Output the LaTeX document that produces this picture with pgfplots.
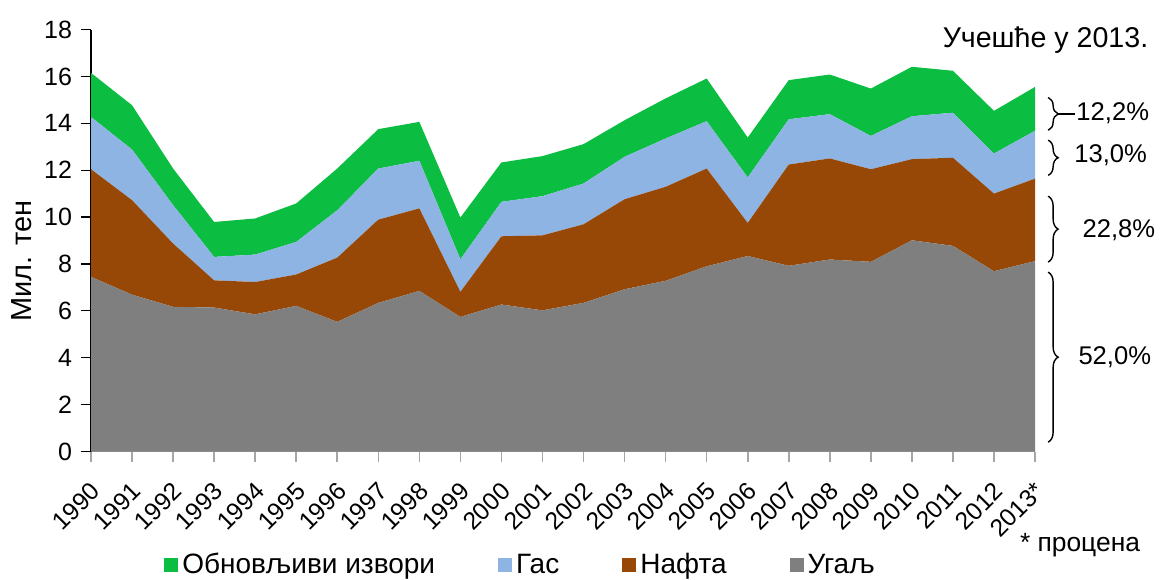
\documentclass[border=0pt]{standalone}
\usepackage{fontspec}
\setmainfont{Liberation Sans}
\usepackage{pgfplots}
\pgfplotsset{compat=1.18}
\usetikzlibrary{decorations.pathreplacing}
\definecolor{cRen}{RGB}{11,189,65}
\definecolor{cGas}{RGB}{142,180,227}
\definecolor{cOil}{RGB}{151,72,6}
\definecolor{cCoal}{RGB}{127,127,127}
\begin{document}
\begin{tikzpicture}
\path[use as bounding box] (0,0) rectangle (582.5pt,289.5pt);
\begin{axis}[
  at={(45.5pt,63.75pt)}, anchor=south west,
  scale only axis, width=472pt, height=211pt,
  xmin=1990, xmax=2013, ymin=0, ymax=18,
  ytick={0,2,...,18},
  xtick={1990,1991,...,2013},
  xticklabels={1990,1991,1992,1993,1994,1995,1996,1997,1998,1999,2000,2001,2002,2003,2004,2005,2006,2007,2008,2009,2010,2011,2012,2013*},
  stack plots=y,
  clip=false,
  axis x line*=bottom, axis y line*=left,
  x axis line style={-,draw=gray!70,line width=0.8pt},
  y axis line style={-,draw=black,line width=0.6pt},
  tick align=outside,
  xtick style={draw=gray!70,line width=0.8pt},
  ytick style={draw=black,line width=0.6pt},
  major tick length=5pt,
  /pgf/number format/assume math mode=true,
  yticklabel style={font=\fontsize{12.5}{14}\selectfont, xshift=-1pt},
  xticklabel style={font=\fontsize{12.3}{14}\selectfont, xshift=-0.8pt, yshift=-8pt, rotate=45, anchor=north east, inner sep=1pt},
  legend columns=4,
  reverse legend,
  legend style={draw=none, at={(0.456,-0.269)}, anchor=center,
    font=\fontsize{14}{16}\selectfont,
    /tikz/every even column/.append style={column sep=29.5pt}},
  legend image code/.code={\fill[#1] (0pt,-3.5pt) rectangle (7pt,3.5pt);},
]
\addplot[fill=cCoal, draw=none] coordinates {
(1990,7.45) (1991,6.69) (1992,6.17) (1993,6.14) (1994,5.85) (1995,6.21)
(1996,5.53) (1997,6.34) (1998,6.85) (1999,5.74) (2000,6.27) (2001,6.02)
(2002,6.34) (2003,6.92) (2004,7.28) (2005,7.90) (2006,8.34) (2007,7.92)
(2008,8.19) (2009,8.09) (2010,9.01) (2011,8.77) (2012,7.69) (2013,8.12)} \closedcycle;
\addlegendentry{Угаљ}
\addplot[fill=cOil, draw=none] coordinates {
(1990,4.59) (1991,4.03) (1992,2.70) (1993,1.16) (1994,1.38) (1995,1.34)
(1996,2.74) (1997,3.55) (1998,3.52) (1999,1.07) (2000,2.91) (2001,3.20)
(2002,3.35) (2003,3.84) (2004,4.01) (2005,4.17) (2006,1.41) (2007,4.32)
(2008,4.31) (2009,3.95) (2010,3.46) (2011,3.76) (2012,3.31) (2013,3.52)} \closedcycle;
\addlegendentry{Нафта}
\addplot[fill=cGas, draw=none] coordinates {
(1990,2.23) (1991,2.16) (1992,1.64) (1993,1.00) (1994,1.17) (1995,1.39)
(1996,2.02) (1997,2.18) (1998,2.03) (1999,1.39) (2000,1.47) (2001,1.67)
(2002,1.74) (2003,1.81) (2004,2.06) (2005,2.02) (2006,1.94) (2007,1.93)
(2008,1.89) (2009,1.42) (2010,1.83) (2011,1.92) (2012,1.71) (2013,2.04)} \closedcycle;
\addlegendentry{Гас}
\addplot[fill=cRen, draw=none] coordinates {
(1990,1.88) (1991,1.89) (1992,1.56) (1993,1.49) (1994,1.54) (1995,1.64)
(1996,1.78) (1997,1.68) (1998,1.66) (1999,1.78) (2000,1.68) (2001,1.71)
(2002,1.68) (2003,1.56) (2004,1.71) (2005,1.82) (2006,1.70) (2007,1.67)
(2008,1.69) (2009,2.02) (2010,2.11) (2011,1.79) (2012,1.82) (2013,1.87)} \closedcycle;
\addlegendentry{Обновљиви извори}
% share annotations
\draw[decorate,decoration={brace,amplitude=5pt},line width=0.7pt] (axis cs:2013.32,15.1) -- (axis cs:2013.32,13.7);
\draw[line width=0.7pt] (axis cs:2013.56,14.4) -- (axis cs:2013.98,14.4);
\node[anchor=west,inner sep=0pt,font=\fontsize{12.8}{14}\selectfont] at (axis cs:2014.0,14.45) {12,2\%};
\draw[decorate,decoration={brace,amplitude=5pt},line width=0.7pt] (axis cs:2013.32,13.28) -- (axis cs:2013.32,11.78);
\node[anchor=west,inner sep=0pt,font=\fontsize{12.8}{14}\selectfont] at (axis cs:2013.95,12.64) {13,0\%};
\draw[decorate,decoration={brace,amplitude=5pt},line width=0.7pt] (axis cs:2013.32,10.89) -- (axis cs:2013.32,8.08);
\node[anchor=west,inner sep=0pt,font=\fontsize{12.8}{14}\selectfont] at (axis cs:2014.15,9.44) {22,8\%};
\draw[decorate,decoration={brace,amplitude=5pt},line width=0.7pt] (axis cs:2013.32,7.65) -- (axis cs:2013.32,0.4);
\node[anchor=west,inner sep=0pt,font=\fontsize{12.8}{14}\selectfont] at (axis cs:2014.05,4.03) {52,0\%};
\end{axis}
\node[rotate=90,font=\fontsize{14.5}{16}\selectfont] at (11pt,159pt) {Мил. тен};
\node[font=\fontsize{14.3}{16}\selectfont] at (522.75pt,269.5pt) {Учешће у 2013.};
\node[font=\fontsize{13.2}{15}\selectfont] at (540pt,17pt) {* процена};
\end{tikzpicture}
\end{document}
